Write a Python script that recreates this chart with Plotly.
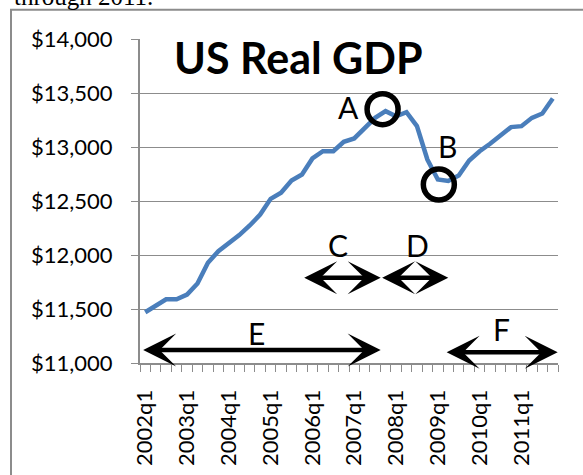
import plotly.graph_objects as go

quarters = [f"{y}q{q}" for y in range(2002, 2012) for q in range(1, 5)]
gdp = [11470, 11535, 11590, 11590, 11634, 11736, 11928, 12035,
       12106, 12184, 12273, 12375, 12520, 12576, 12690, 12745,
       12894, 12961, 12961, 13048, 13079, 13168, 13270, 13332,
       13285, 13323, 13193, 12884, 12699, 12685, 12736, 12875,
       12961, 13030, 13106, 13184, 13193, 13270, 13310, 13449]
y_ticks = [11000, 11500, 12000, 12500, 13000, 13500, 14000]
y_tick_labels = [f"${v:,}" for v in y_ticks]
label_every = 4

xs = list(range(len(quarters)))
GRAY = "#8c8c8c"
FONT = "Lato"

fig = go.Figure()
fig.add_trace(go.Scatter(x=xs, y=gdp, mode="lines",
                         line=dict(color="#4A7EBB", width=4.5),
                         hoverinfo="skip", showlegend=False))

# circles at peak (A) and trough (B)
peak_i = gdp.index(max(gdp[:30]))
trough_i = 28
for idx, dx, dy in [(peak_i, -3, 2), (trough_i, 1, -5)]:
    r = 15.5
    fig.add_shape(type="circle", xref="x", yref="y", xsizemode="pixel", ysizemode="pixel",
                  xanchor=idx, yanchor=gdp[idx],
                  x0=dx - r, x1=dx + r, y0=dy - r, y1=dy + r,
                  line=dict(color="black", width=5.5), layer="above")

# double-headed arrows (tail x, head x, y value)
arrows = [(15.07, 22.53, 11790), (22.53, 29.0, 11790),
          (-0.34, 22.53, 11120), (28.7, 39.47, 11099)]
for x0, x1, yv in arrows:
    fig.add_annotation(x=x1, y=yv, ax=x0, ay=yv, xref="x", yref="y", axref="x", ayref="y",
                       text="", showarrow=True, arrowhead=3, startarrowhead=3,
                       arrowside="end+start", arrowwidth=4.4, arrowsize=1.25, startarrowsize=1.25,
                       arrowcolor="black", standoff=0, startstandoff=0)

letters = [("A", 19.43, 13375), ("B", 28.94, 13012), ("C", 18.48, 12090),
           ("D", 26.04, 12090), ("E", 10.67, 11280), ("F", 34.11, 11315)]
for t, lx, ly in letters:
    fig.add_annotation(x=lx, y=ly, xref="x", yref="y", text=t, showarrow=False,
                       font=dict(family=FONT, size=30, color="black"),
                       xanchor="center", yanchor="middle")

fig.add_annotation(x=14.62, y=13830, xref="x", yref="y", text="<b>US Real GDP</b>",
                   showarrow=False, font=dict(family=FONT, size=43, color="black"),
                   xanchor="center", yanchor="middle")

# cut-off text above the chart frame
fig.add_annotation(x=-0.306, y=1.131, xref="paper", yref="paper", text="through 2011.",
                   showarrow=False, font=dict(family="Liberation Serif", size=25, color="black"),
                   xanchor="left", yanchor="middle")

# outer frame
fig.add_shape(type="rect", xref="paper", yref="paper", x0=-0.3086, x1=1.2, y0=-0.5, y1=1.090,
              line=dict(color=GRAY, width=2), layer="below")

fig.update_layout(
    width=583, height=475,
    margin=dict(l=140, r=25, t=39, b=112, autoexpand=False),
    paper_bgcolor="white", plot_bgcolor="white",
    font=dict(family=FONT, size=22, color="black"),
    xaxis=dict(range=[-0.5, len(quarters) - 0.5], tickvals=xs[::label_every],
               ticktext=quarters[::label_every], tickangle=-90, ticks="",
               showgrid=False, zeroline=False, showline=True, linecolor=GRAY, linewidth=2,
               ticklabelstandoff=16, tickfont=dict(family=FONT, size=22),
               minor=dict(ticks="outside", ticklen=7, tickcolor=GRAY, tickwidth=1.3,
                          tick0=-0.5, dtick=1, showgrid=False)),
    yaxis=dict(range=[11000, 14000], tickvals=y_ticks, ticktext=y_tick_labels,
               ticks="outside", ticklen=7, tickcolor=GRAY, tickwidth=1.3,
               showgrid=True, gridcolor=GRAY, gridwidth=1.3, zeroline=False,
               showline=True, linecolor=GRAY, linewidth=2, ticklabelstandoff=14,
               tickfont=dict(family=FONT, size=22)),
)

fig.write_html("out.html", config={"displayModeBar": False},
               post_script="document.body.style.margin='0';")
